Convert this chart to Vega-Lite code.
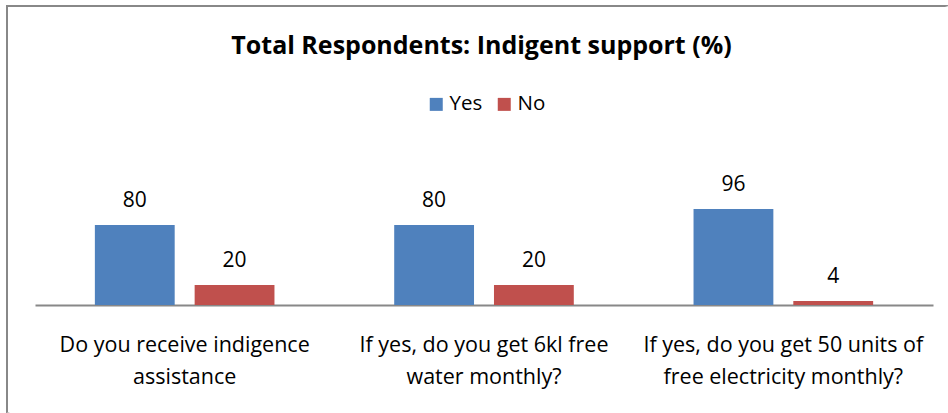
{
  "$schema": "https://vega.github.io/schema/vega-lite/v6.json",
  "width": 941,
  "height": 407,
  "padding": {"left": 7, "top": 6, "right": 0, "bottom": 0},
  "autosize": {"type": "none"},
  "background": "white",
  "title": {
    "text": "Total Respondents: Indigent support (%)",
    "font": "Open Sans",
    "fontSize": 25,
    "fontWeight": "bold",
    "color": "#000000",
    "anchor": "middle",
    "frame": "group",
    "offset": -53,
    "dx": 4
  },
  "data": {
    "values": [
      {"question": "Do you receive indigence assistance", "response": "Yes", "pct": 80},
      {"question": "Do you receive indigence assistance", "response": "No", "pct": 20},
      {"question": "If yes, do you get 6kl free water monthly?", "response": "Yes", "pct": 80},
      {"question": "If yes, do you get 6kl free water monthly?", "response": "No", "pct": 20},
      {"question": "If yes, do you get 50 units of free electricity monthly?", "response": "Yes", "pct": 96},
      {"question": "If yes, do you get 50 units of free electricity monthly?", "response": "No", "pct": 4}
    ]
  },
  "encoding": {
    "x": {
      "field": "question",
      "type": "nominal",
      "sort": [
        "Do you receive indigence assistance",
        "If yes, do you get 6kl free water monthly?",
        "If yes, do you get 50 units of free electricity monthly?"
      ],
      "scale": {"range": [28, 926], "paddingInner": 0.4, "paddingOuter": 0.2},
      "axis": {
        "title": null,
        "orient": "bottom",
        "offset": -108,
        "ticks": false,
        "labelAngle": 0,
        "labelFont": "Open Sans",
        "labelFontSize": 21.5,
        "labelColor": "#000000",
        "labelPadding": 29,
        "labelLineHeight": 32,
        "labelLimit": 400,
        "domainColor": "#888888",
        "domainWidth": 2,
        "labelExpr": "datum.label == 'Do you receive indigence assistance' ? ['Do you receive indigence', 'assistance'] : datum.label == 'If yes, do you get 6kl free water monthly?' ? ['If yes, do you get 6kl free', 'water monthly?'] : ['If yes, do you get 50 units of', 'free electricity monthly?']"
      }
    },
    "xOffset": {
      "field": "response",
      "type": "nominal",
      "sort": ["Yes", "No"],
      "scale": {"paddingInner": 0.2, "paddingOuter": 0}
    },
    "y": {
      "field": "pct",
      "type": "quantitative",
      "scale": {"domain": [-108, 299], "nice": false, "zero": false},
      "axis": null
    }
  },
  "layer": [
    {
      "mark": {"type": "bar"},
      "encoding": {
        "color": {
          "field": "response",
          "type": "nominal",
          "sort": ["Yes", "No"],
          "scale": {"domain": ["Yes", "No"], "range": ["#4F81BD", "#C0504D"]},
          "legend": {
            "title": null,
            "orient": "none",
            "legendX": 419,
            "legendY": 88,
            "direction": "horizontal",
            "symbolType": "square",
            "symbolSize": 169,
            "symbolStrokeWidth": 0,
            "symbolOpacity": 1,
            "labelFont": "Open Sans",
            "labelFontSize": 20.5,
            "labelColor": "#000000",
            "labelOffset": 3,
            "columnPadding": 11
          }
        }
      }
    },
    {
      "mark": {
        "type": "text",
        "font": "Open Sans",
        "fontSize": 21,
        "color": "#000000",
        "baseline": "alphabetic",
        "dy": -18
      },
      "encoding": {
        "text": {"field": "pct", "type": "quantitative"}
      }
    }
  ],
  "config": {
    "view": {
      "strokeWidth": 2,
      "stroke": {
        "gradient": "linear",
        "x1": 0, "y1": 0, "x2": 1, "y2": 1,
        "stops": [
          {"offset": 0, "color": "#888888"},
          {"offset": 0.499, "color": "#888888"},
          {"offset": 0.501, "color": "#ffffff"},
          {"offset": 1, "color": "#ffffff"}
        ]
      }
    }
  }
}
